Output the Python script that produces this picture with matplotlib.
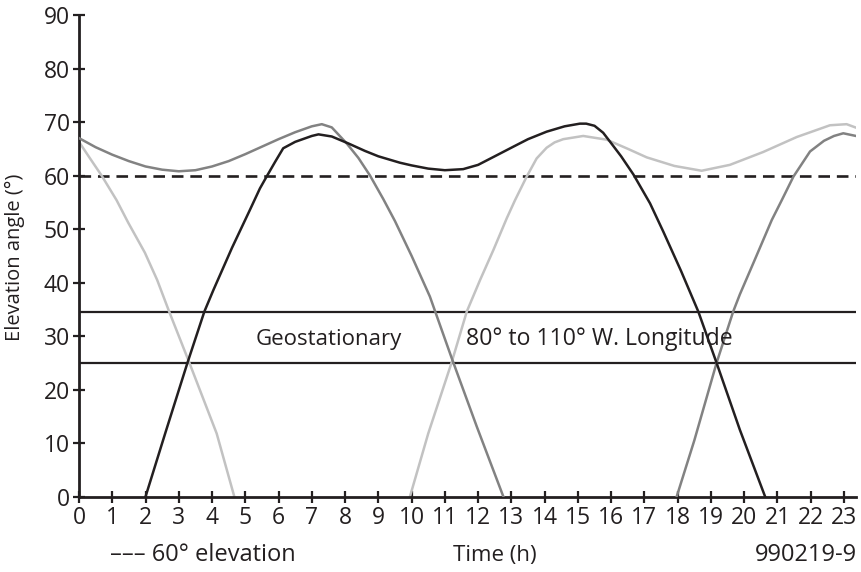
import matplotlib
matplotlib.use("Agg")
import matplotlib.pyplot as plt

plt.rcParams['font.family'] = ['Open Sans', 'DejaVu Sans']

# ---- data (time in hours, elevation in degrees) ----
sat_a1_t = [0, 0.5, 1.0, 1.5, 2.0, 2.5, 3.0, 3.5, 4.0, 4.5, 5.0, 5.5, 6.0, 6.5, 7.0, 7.3, 7.6,
            8.05, 8.4, 8.75, 9.15, 9.5, 10.0, 10.55, 11.2, 11.96, 12.76]
sat_a1_v = [67.0, 65.3, 63.9, 62.7, 61.7, 61.1, 60.8, 61.0, 61.7, 62.7, 64.0, 65.4, 66.8, 68.1, 69.2, 69.6, 69.0,
            66.0, 63.3, 60.0, 55.6, 51.5, 45.0, 37.4, 26.0, 13.1, 0]
sat_a2_t = [17.97, 18.5, 19.17, 19.67, 19.87, 20.3, 20.83, 21.13, 21.48, 21.98, 22.4, 22.7, 22.98, 23.36]
sat_a2_v = [0, 10.5, 25.0, 34.6, 37.8, 44.0, 51.7, 55.4, 59.8, 64.5, 66.5, 67.4, 67.9, 67.4]

sat_b1_t = [0, 0.3, 0.68, 1.13, 1.48, 1.98, 2.35, 2.71, 3.32, 4.14, 4.67]
sat_b1_v = [66.3, 63.5, 60.0, 55.4, 51.2, 45.6, 40.5, 34.6, 25.0, 11.8, 0]
sat_b2_t = [9.95, 10.5, 11.2, 11.66, 12.06, 12.46, 12.86, 13.11, 13.46, 13.76, 14.06, 14.3, 14.56, 15.16, 15.87,
            16.5, 17.07, 17.9, 18.72, 19.57, 20.57, 21.58, 22.58, 23.08, 23.43]
sat_b2_v = [0, 11.8, 25.0, 34.6, 40.5, 46.1, 52.0, 55.4, 59.8, 63.2, 65.2, 66.2, 66.8, 67.4, 66.7,
            65.0, 63.4, 61.8, 60.9, 62.0, 64.4, 67.2, 69.4, 69.6, 68.8]

sat_c_t = [2.0, 2.6, 3.26, 3.77, 4.04, 4.6, 5.14, 5.44, 5.64, 5.9, 6.14, 6.5, 7.0, 7.2, 7.6, 8.1, 8.6, 9.0,
           9.65, 10.0, 10.5, 11.0, 11.55, 12.0, 12.5, 13.06, 13.5, 14.06, 14.6, 15.06, 15.25, 15.5, 15.76,
           15.97, 16.3, 16.67, 17.17, 17.57, 18.1, 18.62, 19.17, 19.87, 20.63]
sat_c_v = [0, 12.0, 25.0, 34.6, 38.6, 46.5, 53.6, 57.6, 59.8, 62.6, 65.1, 66.3, 67.4, 67.7, 67.3, 66.0, 64.6, 63.6,
           62.4, 61.9, 61.3, 61.0, 61.2, 62.0, 63.6, 65.4, 66.8, 68.2, 69.2, 69.7, 69.7, 69.3, 68.0,
           66.3, 63.6, 60.2, 54.8, 49.5, 42.2, 34.6, 25.0, 12.5, 0]

elev_60 = 60
geo_upper = 34.5
geo_lower = 25
x_ticks = list(range(0, 24))
y_ticks = list(range(0, 91, 10))

ink = '#231f20'
light = '#c2c2c2'
medium = '#828282'

fig = plt.figure(figsize=(8.61, 5.72), dpi=100)
ax = fig.add_axes([79/861, 1-496.7/572, (855.6-79)/861, (496.7-15)/572])
ax.set_xlim(0, 23.35)
ax.set_ylim(0, 90)

lw = 1.8
ax.axhline(elev_60, color=ink, lw=1.9, linestyle=(0, (4.4, 2.6)), zorder=1)
ax.axhline(geo_upper, color=ink, lw=1.6, zorder=1)
ax.axhline(geo_lower, color=ink, lw=1.6, zorder=1)

ax.plot(sat_b1_t, sat_b1_v, color=light, lw=lw, zorder=2, solid_joinstyle='round')
ax.plot(sat_b2_t, sat_b2_v, color=light, lw=lw, zorder=2, solid_joinstyle='round')
ax.plot(sat_a1_t, sat_a1_v, color=medium, lw=lw, zorder=3, solid_joinstyle='round')
ax.plot(sat_a2_t, sat_a2_v, color=medium, lw=lw, zorder=3, solid_joinstyle='round')
ax.plot(sat_c_t, sat_c_v, color=ink, lw=lw, zorder=4, solid_joinstyle='round')

ax.text(7.5, 29.4, 'Geostationary', ha='center', va='center', fontsize=16, color=ink)
ax.text(11.63, 29.4, '80° to 110° W. Longitude', ha='left', va='center', fontsize=16.6, color=ink)

for s in ['top', 'right']:
    ax.spines[s].set_visible(False)
for s in ['left', 'bottom']:
    ax.spines[s].set_color(ink)
    ax.spines[s].set_linewidth(2.0)
ax.set_xticks(x_ticks)
ax.set_yticks(y_ticks)
ax.tick_params(axis='both', direction='inout', length=9, width=1.6, color=ink,
               labelsize=16.5, labelcolor=ink)
ax.tick_params(axis='x', pad=2)
ax.tick_params(axis='y', pad=2)

fig.text(15/861, 1-257/572, 'Elevation angle (°)', rotation=90, ha='center', va='center',
         fontsize=14.5, color=ink)
fig.text(110/861, 1-555/572, '––– 60° elevation', ha='left', va='center', fontsize=17, color=ink)
fig.text(495/861, 1-555/572, 'Time (h)', ha='center', va='center', fontsize=16, color=ink)
fig.text(857/861, 1-555/572, '990219-9', ha='right', va='center', fontsize=17, color=ink)

fig.savefig('out.png', dpi=100)
